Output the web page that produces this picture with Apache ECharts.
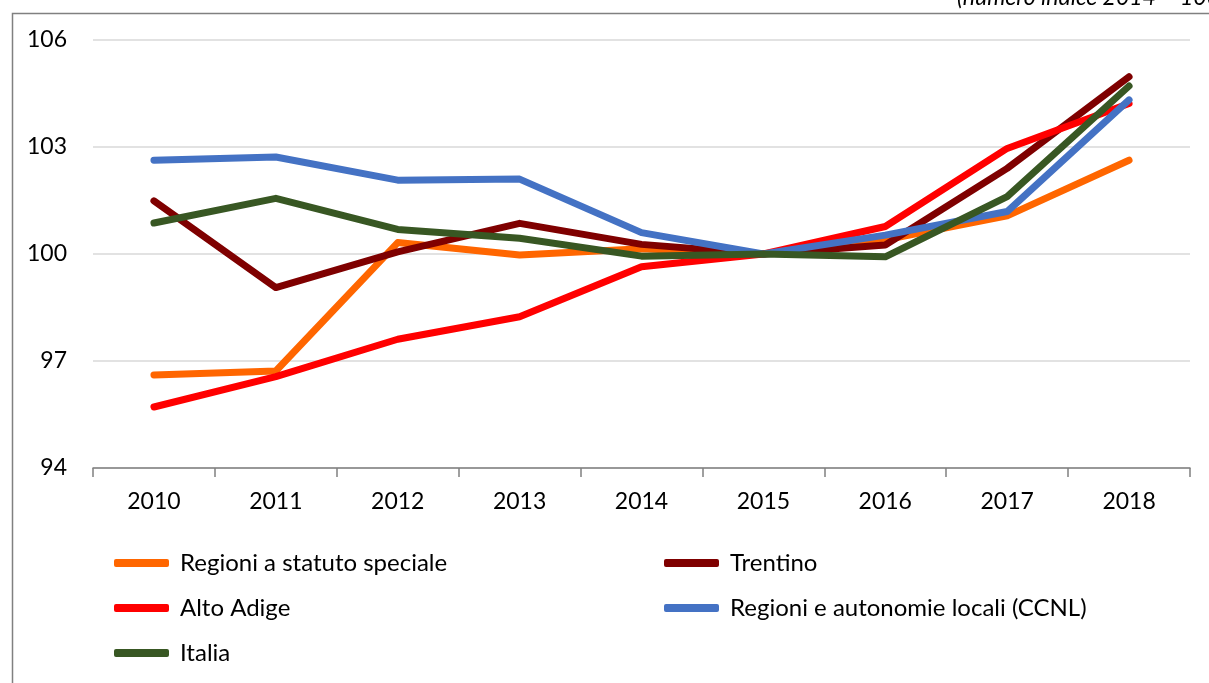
<!DOCTYPE html>
<html>
<head>
<meta charset="utf-8">
<script src="https://cdn.jsdelivr.net/npm/echarts@6/dist/echarts.min.js"></script>
<style>
html,body{margin:0;padding:0;background:#fff;}
#chart{width:1209px;height:683px;}
</style>
</head>
<body>
<div id="chart"></div>
<script>
var years = ['2010','2011','2012','2013','2014','2015','2016','2017','2018'];
var yTicks = [94, 97, 100, 103, 106];
var regioniStatutoSpeciale = [96.61, 96.72, 100.32, 99.97, 100.15, 100.0, 100.40, 101.07, 102.63];
var trentino = [101.49, 99.06, 100.06, 100.86, 100.27, 100.0, 100.25, 102.40, 104.97];
var altoAdige = [95.71, 96.56, 97.61, 98.24, 99.64, 100.0, 100.77, 102.96, 104.22];
var regioniAutonomieLocali = [102.63, 102.72, 102.07, 102.10, 100.60, 100.0, 100.53, 101.19, 104.32];
var italia = [100.87, 101.56, 100.69, 100.44, 99.94, 100.0, 99.92, 101.61, 104.71];
var names = ['Regioni a statuto speciale', 'Trentino', 'Alto Adige', 'Regioni e autonomie locali (CCNL)', 'Italia'];
var colors = ['#FF6600', '#7F0000', '#FF0000', '#4472C4', '#385723'];
var subtitle = '(numero indice 2014 = 100)';

var FONT = 'Lato';
var chart = echarts.init(document.getElementById('chart'));
var seriesData = [regioniStatutoSpeciale, trentino, altoAdige, regioniAutonomieLocali, italia];
var series = seriesData.map(function (d, i) {
  return {
    name: names[i],
    type: 'line',
    data: d,
    showSymbol: false,
    symbol: 'none',
    lineStyle: {width: 7, color: colors[i], cap: 'round', join: 'round'},
    itemStyle: {color: colors[i]},
    z: 2 + i
  };
});
var legendCommon = {
  orient: 'vertical',
  icon: 'roundRect',
  itemWidth: 55,
  itemHeight: 8,
  itemGap: 21,
  textStyle: {fontFamily: FONT, fontSize: 24, color: '#000', padding: [0, 0, 0, 6]}
};
chart.setOption({
  animation: false,
  color: colors,
  grid: {left: 93, right: 19, top: 40, bottom: 215},
  xAxis: {
    type: 'category',
    data: years,
    boundaryGap: true,
    axisLine: {lineStyle: {color: '#808080', width: 1.5}},
    axisTick: {show: true, length: 9, lineStyle: {color: '#808080', width: 1.5}},
    axisLabel: {fontFamily: FONT, fontSize: 23, color: '#000', margin: 22}
  },
  yAxis: {
    type: 'value',
    min: yTicks[0],
    max: yTicks[yTicks.length - 1],
    interval: 3,
    axisLine: {show: false},
    axisTick: {show: false},
    splitLine: {lineStyle: {color: '#D9D9D9', width: 1.5}},
    axisLabel: {fontFamily: FONT, fontSize: 23, color: '#000', margin: 26}
  },
  legend: [
    Object.assign({}, legendCommon, {left: 109, top: 546, data: [names[0], names[2], names[4]]}),
    Object.assign({}, legendCommon, {left: 659, top: 546, data: [names[1], names[3]]})
  ],
  graphic: [
    {type: 'rect', left: 10, top: 11, shape: {width: 1400, height: 900}, style: {fill: 'none', stroke: '#808080', lineWidth: 1.5}, silent: true},
    {type: 'text', left: 957, top: -14, style: {text: subtitle, font: 'italic 23px ' + FONT, fill: '#000'}}
  ],
  series: series
});
</script>
</body>
</html>
